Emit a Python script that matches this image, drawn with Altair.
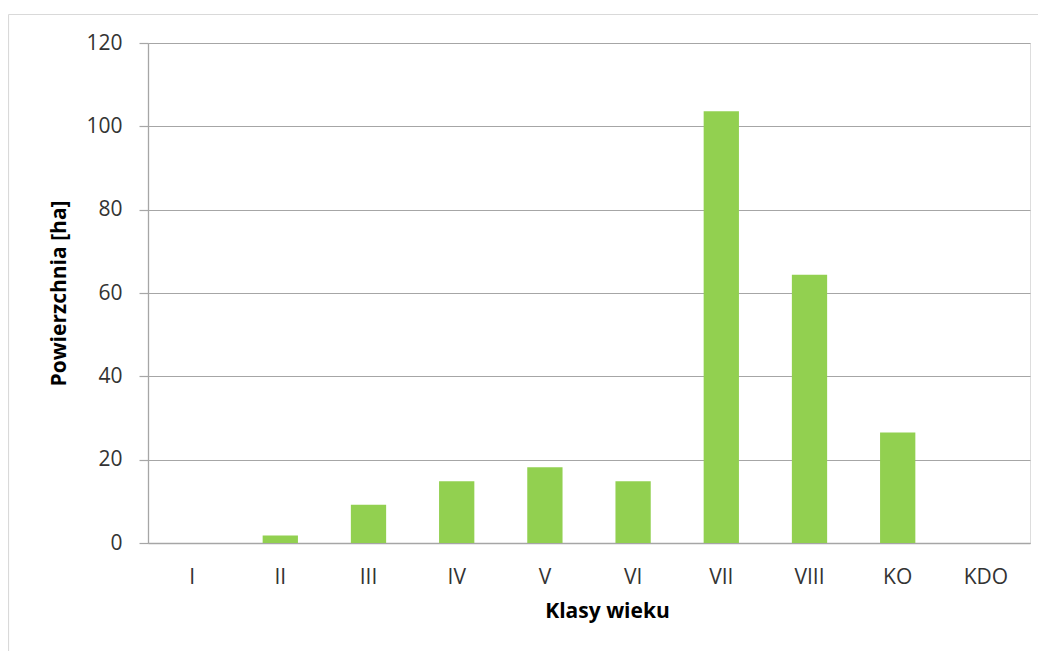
import altair as alt
import pandas as pd

categories = ["I", "II", "III", "IV", "V", "VI", "VII", "VIII", "KO", "KDO"]
values = [0.0, 1.8, 9.2, 14.8, 18.2, 14.8, 103.6, 64.4, 26.5, 0.0]

df = pd.DataFrame({"klasa": categories, "pow": values})

FONT = "Open Sans"

bars = alt.Chart(df).mark_bar(color="#92D050").encode(
    x=alt.X("klasa:N", sort=categories,
            scale=alt.Scale(paddingInner=0.6, paddingOuter=0.3),
            axis=alt.Axis(title="Klasy wieku", labelAngle=0, ticks=False,
                          domainColor="#A6A6A6", domainWidth=1.3,
                          labelFont=FONT, labelFontSize=21, labelColor="#333333",
                          labelPadding=23,
                          titleFont=FONT, titleFontSize=21, titleFontWeight="bold",
                          titleColor="#000000", titleX=459, titleY=68,
                          titleBaseline="middle", titleAlign="center")),
    y=alt.Y("pow:Q", scale=alt.Scale(domain=[0, 120], nice=False),
            axis=alt.Axis(title="Powierzchnia [ha]", values=[0, 20, 40, 60, 80, 100, 120],
                          grid=True, gridColor="#A6A6A6", gridWidth=1.2,
                          domainColor="#A6A6A6", domainWidth=1.3,
                          tickColor="#A6A6A6", tickSize=9, tickWidth=1.2,
                          labelFont=FONT, labelFontSize=21, labelColor="#333333",
                          labelPadding=17,
                          titleFont=FONT, titleFontSize=21, titleFontWeight="bold",
                          titleColor="#000000", titleX=-89, titleY=250,
                          titleAngle=270, titleBaseline="middle", titleAlign="center")),
)

border_data = alt.Data(values=[{"k": 1}])
left_border = alt.Chart(border_data).mark_rule(color="#D9D9D9", strokeWidth=1.2).encode(
    x=alt.value(-139.5), y=alt.value(-28.5), y2=alt.value(720)
)
top_border = alt.Chart(border_data).mark_rule(color="#D9D9D9", strokeWidth=1.2).encode(
    x=alt.value(-139.5), x2=alt.value(1000), y=alt.value(-28.5)
)

chart = alt.layer(left_border, top_border, bars).properties(
    width=882, height=500,
    autosize=alt.AutoSizeParams(type="none"),
    padding={"left": 140, "top": 35, "right": 8, "bottom": 108},
).configure_view(stroke=None).configure(background="white")

chart.save("out.html", embed_options={"renderer": "svg", "actions": False})
